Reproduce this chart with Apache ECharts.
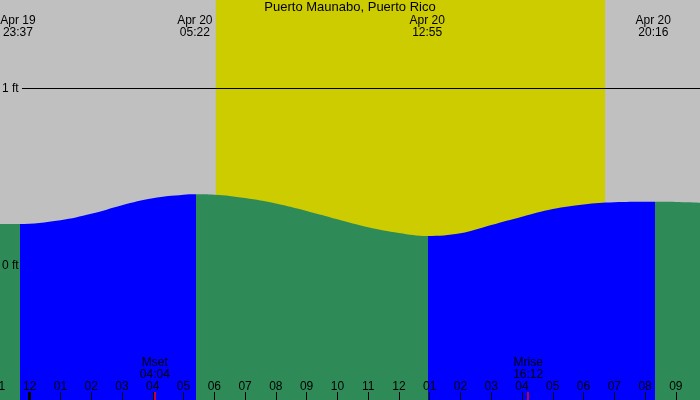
<!DOCTYPE html>
<html>
<head>
<meta charset="utf-8">
<script src="https://cdn.jsdelivr.net/npm/echarts@6/dist/echarts.min.js"></script>
<style>html,body{margin:0;padding:0;background:#c0c0c0;}#c{width:700px;height:400px;}</style>
</head>
<body>
<div id="c"></div>
<script>
// Hours relative to Apr 20 00:00 local time
const tideHours = [-1, -0.38, 1, 2, 3, 4, 5, 5.37, 6, 7, 8, 9, 10, 11, 12, 12.92, 14, 15, 16, 17, 18, 19, 20, 20.27, 21, 21.8];
const tideFeet  = [0.234, 0.234, 0.256, 0.292, 0.341, 0.380, 0.399, 0.402, 0.400, 0.381, 0.350, 0.308, 0.261, 0.216, 0.184, 0.167, 0.182, 0.229, 0.276, 0.319, 0.345, 0.357, 0.360, 0.360, 0.359, 0.355];

const tideEventHours = [-0.383, 5.367, 12.917, 20.267];
const tideEventDates = ['Apr 19', 'Apr 20', 'Apr 20', 'Apr 20'];
const tideEventTimes = ['23:37', '05:22', '12:55', '20:16'];

const floodPeriods = [[-0.32, 5.39], [12.95, 20.32]];
const daylight = [6.05, 18.70];

const moonEventHours = [4.067, 16.2];
const moonEventNames = ['Mset', 'Mrise'];
const moonEventTimes = ['04:04', '16:12'];

const hourTicks = [-1,0,1,2,3,4,5,6,7,8,9,10,11,12,13,14,15,16,17,18,19,20,21];
const hourLabels = ['11','12','01','02','03','04','05','06','07','08','09','10','11','12','01','02','03','04','05','06','07','08','09'];
const midnightTicks = [0];

const yLevels = [0, 1];
const yLevelLabels = ['0 ft', '1 ft'];

const xMin = -1, xMax = 21.785;
const yMin = -0.76, yMax = 1.5;

const GREEN = '#2e8b57', BLUE = '#0000ff', YELLOW = '#cccc00';
const FONT = 'Liberation Sans';

function idxOf(arr, v) {
  let best = 0;
  for (let i = 1; i < arr.length; i++) if (Math.abs(arr[i] - v) < Math.abs(arr[best] - v)) best = i;
  return best;
}

const pieces = [];
let prev = null;
floodPeriods.forEach(function (p) {
  if (prev === null) pieces.push({ lt: p[0], color: GREEN });
  else pieces.push({ gte: prev, lt: p[0], color: GREEN });
  pieces.push({ gte: p[0], lt: p[1], color: BLUE });
  prev = p[1];
});
pieces.push({ gte: prev, color: GREEN });

const baseX = { type: 'value', min: xMin, max: xMax, gridIndex: 0, splitLine: { show: false }, axisLine: { show: false, onZero: false } };

const chart = echarts.init(document.getElementById('c'), null, { renderer: 'canvas' });
chart.setOption({
  animation: false,
  backgroundColor: '#c0c0c0',
  textStyle: { fontFamily: FONT },
  title: {
    text: 'Puerto Maunabo, Puerto Rico',
    left: 'center', top: 1, padding: 0,
    textStyle: { fontFamily: FONT, fontSize: 13, fontWeight: 'normal', color: '#000' }
  },
  grid: { left: -1.07, right: 0, top: 0, bottom: 0, containLabel: false, outerBoundsMode: 'none' },
  xAxis: [
    Object.assign({}, baseX, {
      position: 'bottom', interval: 1, z: 10,
      axisTick: { show: true, inside: true, length: 8, lineStyle: { color: '#000', width: 1 } },
      axisLabel: {
        show: true, inside: true, margin: 7, color: '#000', fontSize: 12, fontFamily: FONT,
        showMaxLabel: false,
        formatter: function (v) { return hourLabels[idxOf(hourTicks, v)]; }
      }
    }),
    Object.assign({}, baseX, {
      position: 'bottom', z: 11,
      axisTick: { show: true, inside: true, length: 8, customValues: midnightTicks, lineStyle: { color: '#000', width: 3 } },
      axisLabel: { show: false }
    }),
    Object.assign({}, baseX, {
      position: 'bottom', z: 12,
      axisTick: { show: true, inside: true, length: 8, customValues: moonEventHours, lineStyle: { color: '#ff0000', width: 1.5 } },
      axisLabel: {
        show: true, inside: true, margin: 19, color: '#000', fontSize: 12, lineHeight: 12, fontFamily: FONT,
        customValues: moonEventHours,
        formatter: function (v) { const i = idxOf(moonEventHours, v); return moonEventNames[i] + '\n' + moonEventTimes[i]; }
      }
    }),
    Object.assign({}, baseX, {
      position: 'top', z: 12,
      axisTick: { show: false },
      axisLabel: {
        show: true, inside: true, margin: 15, color: '#000', fontSize: 12, lineHeight: 12, fontFamily: FONT,
        customValues: tideEventHours,
        formatter: function (v) { const i = idxOf(tideEventHours, v); return tideEventDates[i] + '\n' + tideEventTimes[i]; }
      }
    })
  ],
  yAxis: {
    type: 'value', min: yMin, max: yMax, z: 10,
    splitLine: { show: false }, axisLine: { show: false, onZero: false }, axisTick: { show: false },
    axisLabel: {
      show: true, inside: true, margin: 3, color: '#000', fontSize: 12, fontFamily: FONT,
      customValues: yLevels,
      formatter: function (v) { return yLevelLabels[idxOf(yLevels, v)]; }
    }
  },
  visualMap: {
    type: 'piecewise', show: false, dimension: 0, seriesIndex: 0, pieces: pieces
  },
  series: [
    {
      type: 'line', xAxisIndex: 0, yAxisIndex: 0,
      data: tideHours.map(function (h, i) { return [h, tideFeet[i]]; }),
      smooth: 0.4, showSymbol: false, silent: true,
      lineStyle: { width: 0 },
      areaStyle: { origin: 'start', opacity: 1 },
      markArea: {
        silent: true,
        itemStyle: { color: YELLOW, opacity: 1 },
        data: [[{ xAxis: daylight[0] }, { xAxis: daylight[1] }]]
      },
      markLine: {
        silent: true, symbol: 'none', label: { show: false },
        lineStyle: { color: '#000', width: 1, type: 'solid' },
        data: [[{ coord: [-0.25, yLevels[1]] }, { coord: [xMax, yLevels[1]] }]]
      }
    },
    { type: 'line', xAxisIndex: 1, yAxisIndex: 0, data: [] },
    { type: 'line', xAxisIndex: 2, yAxisIndex: 0, data: [] },
    { type: 'line', xAxisIndex: 3, yAxisIndex: 0, data: [] }
  ]
});
</script>
</body>
</html>
